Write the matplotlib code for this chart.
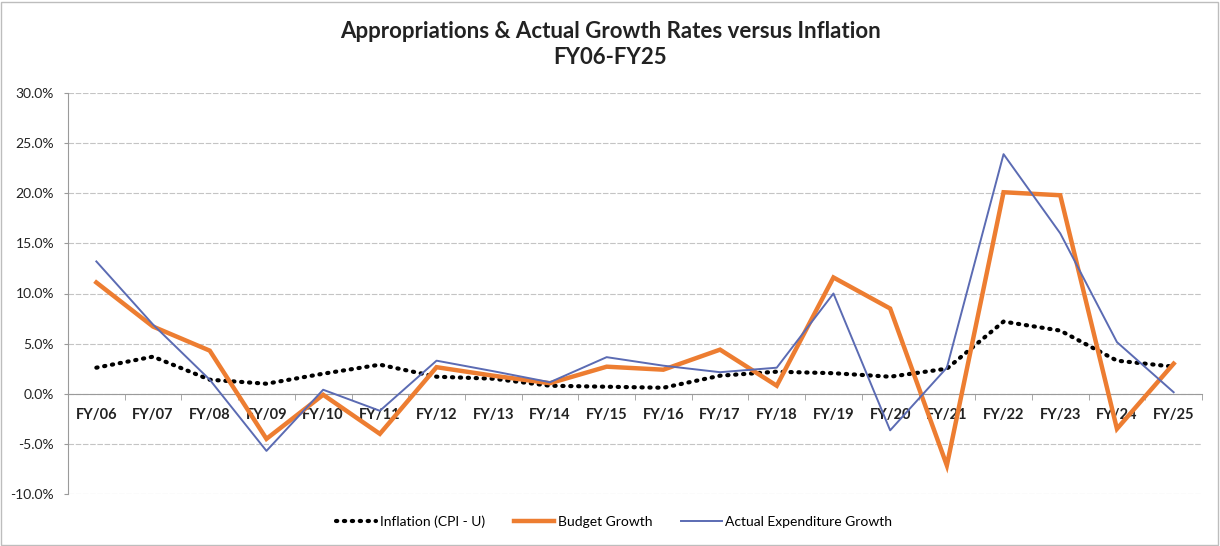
import matplotlib
matplotlib.use("Agg")
import matplotlib.pyplot as plt
from matplotlib.patches import Rectangle
from matplotlib.ticker import FuncFormatter, FixedLocator

plt.rcParams['font.family'] = ['Lato', 'DejaVu Sans']

years = ["FY/06", "FY/07", "FY/08", "FY/09", "FY/10", "FY/11", "FY/12", "FY/13",
         "FY/14", "FY/15", "FY/16", "FY/17", "FY/18", "FY/19", "FY/20", "FY/21",
         "FY/22", "FY/23", "FY/24", "FY/25"]

inflation = [2.6, 3.7, 1.4, 1.0, 2.0, 2.9, 1.7, 1.5, 0.8, 0.7,
             0.6, 1.8, 2.2, 2.05, 1.7, 2.5, 7.2, 6.3, 3.3, 2.7]

budget_growth = [11.1, 6.7, 4.3, -4.5, -0.1, -4.0, 2.65, 1.8, 1.05, 2.7,
                 2.4, 4.4, 0.8, 11.6, 8.5, -7.15, 20.1, 19.8, -3.5, 3.0]

actual_growth = [13.2, 6.9, 1.4, -5.7, 0.4, -1.7, 3.3, 2.25, 1.15, 3.65,
                 2.8, 2.15, 2.6, 10.0, -3.65, 2.6, 23.9, 16.0, 5.15, 0.15]

y_ticks = [-10, -5, 0, 5, 10, 15, 20, 25, 30]

fig = plt.figure(figsize=(12.2, 5.46), dpi=100)
ax = fig.add_axes([68 / 1220, 1 - 494 / 546, (1202 - 68) / 1220, (494 - 93) / 546])

# spines first: moving the bottom spine resets the tick objects
for side in ('top', 'right'):
    ax.spines[side].set_visible(False)
ax.spines['bottom'].set_position(('data', 0))
for side in ('bottom', 'left'):
    ax.spines[side].set_color('#9a9a9a')
    ax.spines[side].set_linewidth(0.8)

x = list(range(len(years)))
ln_inf, = ax.plot(x, inflation, color='black', lw=3.0, linestyle=(0, (0.3, 1.6)),
                  dash_capstyle='round', label='Inflation (CPI - U)', zorder=3)
ln_bud, = ax.plot(x, budget_growth, color='#ED7D31', lw=3.2, solid_joinstyle='miter',
                  label='Budget Growth', zorder=4)
ln_act, = ax.plot(x, actual_growth, color='#5B6BB3', lw=1.4,
                  label='Actual Expenditure Growth', zorder=5)

ax.set_xlim(-0.5, len(years) - 0.5)
ax.set_ylim(-10, 30)

ax.yaxis.set_major_locator(FixedLocator(y_ticks))
ax.yaxis.set_major_formatter(FuncFormatter(lambda v, p: f"{v:.1f}%"))
ax.grid(axis='y', color='#c4c4c4', lw=0.8, linestyle=(0, (5, 1.5)), zorder=0)

ax.set_xticks(x)
ax.set_xticks([i + 0.5 for i in range(-1, len(years))], minor=True)
ax.tick_params(axis='x', which='major', length=0, pad=10, colors='#222222')
ax.tick_params(axis='x', which='minor', length=4, color='#9a9a9a', direction='out')
ax.tick_params(axis='y', length=3, color='#9a9a9a', labelsize=10, labelcolor='#222222', pad=7)
ax.set_xticklabels(years, fontweight='bold', fontsize=10.5)

fig.text(0.5, 1 - 32 / 546, "Appropriations & Actual Growth Rates versus Inflation",
         ha='center', va='center', fontsize=16, fontweight='bold', color='#222222')
fig.text(0.5, 1 - 58 / 546, "FY06-FY25",
         ha='center', va='center', fontsize=16, fontweight='bold', color='#222222')

fig.legend(handles=[ln_inf, ln_bud, ln_act], loc='center',
           bbox_to_anchor=(614 / 1220, 1 - 522 / 546), ncol=3, frameon=False,
           fontsize=10, handlelength=2.9, handletextpad=0.25, columnspacing=2.1)

fig.patches.append(Rectangle((0.001, 0.002), 0.997, 0.995, transform=fig.transFigure,
                             fill=False, ec='#bdbdbd', lw=1.0))

fig.savefig("out.png", dpi=100, facecolor='white')
